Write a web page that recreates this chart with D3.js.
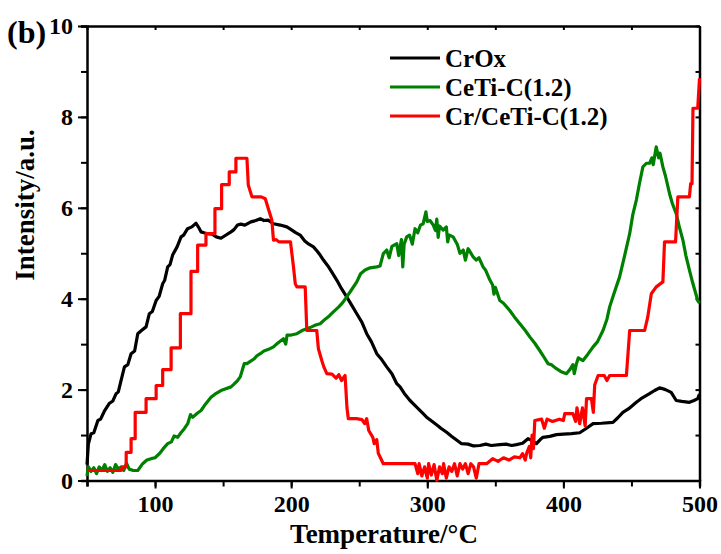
<!DOCTYPE html>
<html>
<head>
<meta charset="utf-8">
<script src="https://cdn.jsdelivr.net/npm/d3@7"></script>
<style>
  body { margin: 0; background: #fff; }
  svg text { font-family: "Liberation Serif", "Times New Roman", serif; font-weight: bold; fill: #000; }
</style>
</head>
<body>
<div id="grafica"></div>
<script>
// ==============================
// DATOS
// ==============================

const serieNombres = ["CrOx", "CeTi-C(1.2)", "Cr/CeTi-C(1.2)"];
const serieColores = ["#000000", "#008000", "#ff0000"];

// [temperatura °C, intensidad u.a.]
const crOx = [[50,0.35],[51,0.8],[53,1.03],[55,1.05],[58,1.32],[60,1.35],[63,1.54],[66.5,1.70],[69,1.75],[71.4,1.91],[73,1.95],[75,2.2],[77.5,2.5],[80,2.55],[82.4,2.79],[85,2.85],[87.3,3.23],[90,3.3],[93.4,3.38],[95.8,3.67],[98,3.72],[100.8,3.96],[103,4.05],[105.6,4.33],[107,4.4],[109.3,4.70],[111,4.75],[112.9,4.96],[116.2,5.14],[119.1,5.36],[121,5.4],[123.9,5.54],[127,5.58],[130.1,5.66],[132,5.57],[133.8,5.47],[136,5.45],[138.6,5.43],[142,5.42],[145,5.36],[148.4,5.33],[151,5.38],[155.8,5.47],[158,5.52],[160.6,5.62],[163,5.64],[166,5.62],[170.4,5.69],[174,5.72],[177.3,5.76],[180,5.72],[183,5.73],[187,5.65],[192,5.62],[196.8,5.58],[200,5.52],[203,5.46],[206.6,5.40],[210,5.27],[213,5.20],[216.4,5.14],[219,5.05],[221.3,4.96],[223.7,4.85],[227,4.72],[230,4.58],[233.5,4.41],[237,4.22],[240.8,4.04],[244,3.88],[248.2,3.67],[252,3.48],[255.5,3.23],[259,3.05],[262.9,2.79],[266,2.68],[270.2,2.50],[274,2.35],[277.6,2.13],[280,2.06],[283,1.92],[287.3,1.76],[292,1.62],[297,1.47],[300,1.38],[304.4,1.28],[308,1.20],[310,1.15],[314.2,1.06],[318,0.97],[322,0.88],[325.2,0.81],[330,0.80],[334,0.76],[338.6,0.77],[343,0.80],[347,0.77],[353.3,0.79],[358,0.80],[362,0.77],[365.5,0.79],[370,0.82],[374,0.92],[377,0.88],[380.2,0.81],[383,0.90],[385,0.95],[390,0.97],[394.9,1.01],[400,1.02],[406,1.03],[412,1.05],[417,1.15],[421.8,1.25],[428,1.26],[436.4,1.28],[440,1.38],[443.7,1.50],[448,1.58],[453.6,1.72],[458,1.82],[463.3,1.91],[467,1.98],[470.7,2.04],[475,2.00],[479.2,1.94],[482.9,1.76],[487,1.74],[492.6,1.72],[496,1.76],[498.7,1.80],[500,1.90]];

const ceTi = [[50,0.1],[51,0.3],[53,0.2],[55,0.28],[57,0.15],[59,0.30],[61,0.22],[63,0.35],[65,0.2],[67,0.28],[69,0.18],[71,0.35],[73,0.25],[75,0.3],[77,0.22],[79,0.38],[81,0.25],[84,0.22],[87.3,0.22],[90.9,0.37],[94,0.45],[97.1,0.48],[100,0.50],[103.2,0.59],[106,0.70],[109.3,0.81],[112,0.85],[114,0.98],[116.6,0.95],[119,1.05],[121.5,1.14],[124,1.25],[126,1.45],[127.6,1.39],[131,1.48],[133.8,1.54],[137,1.68],[141.1,1.83],[144,1.90],[148.4,1.98],[152,2.02],[155.8,2.06],[158,2.12],[160.6,2.20],[162.6,2.28],[165.5,2.57],[167.5,2.57],[170,2.62],[172.9,2.68],[175,2.75],[177.3,2.79],[180,2.85],[183,2.88],[187,2.94],[190,3.02],[194.3,3.12],[196,3.0],[197,3.2],[200,3.2],[204.2,3.23],[208,3.30],[211.5,3.34],[215,3.38],[218,3.42],[221.3,3.45],[225,3.55],[228,3.62],[231,3.71],[235,3.82],[238,3.92],[240.8,4.04],[244,4.18],[248.2,4.37],[251,4.55],[254.3,4.63],[258,4.68],[262.9,4.70],[265.3,4.72],[267.7,4.99],[270.2,5.07],[272,4.9],[274,5.15],[277.6,5.21],[279,4.95],[281,5.3],[282,4.7],[283,5.2],[284.9,5.36],[287,5.40],[289,5.2],[291,5.54],[293,5.45],[295,5.62],[297,5.65],[299,5.91],[300,5.7],[302,5.72],[304.4,5.62],[306,5.5],[307,5.75],[308,5.35],[309,5.6],[311.7,5.51],[314,5.58],[315,5.25],[316,5.4],[319,5.36],[322,5.2],[324,5.0],[326.4,5.07],[328,4.85],[330,5.1],[333.7,4.92],[336,4.85],[338,4.9],[341,4.70],[343,4.62],[346,4.41],[348,4.3],[349,4.1],[350,4.25],[353.3,3.96],[356,3.9],[360.6,3.74],[364,3.6],[368,3.45],[372,3.3],[375.3,3.16],[379,3.02],[382.6,2.86],[385,2.75],[388.7,2.57],[391,2.55],[394.9,2.46],[398,2.40],[402.2,2.35],[405,2.45],[407,2.55],[408,2.35],[409.6,2.57],[411,2.7],[414.4,2.64],[418,2.78],[421.8,2.94],[425,3.05],[429.1,3.30],[432,3.55],[434,3.82],[437,4.1],[441.3,4.48],[445,4.95],[448.7,5.43],[451,5.85],[453.6,6.17],[456,6.55],[458.4,6.90],[461,6.98],[463.3,6.98],[465,7.1],[466,6.95],[468.2,7.34],[470,7.1],[471,7.2],[473.1,6.90],[475,6.7],[478,6.31],[480,6.1],[482.9,5.87],[485,5.6],[487.8,5.29],[490,4.95],[492.6,4.63],[495,4.35],[498.7,3.96],[500,3.9]];

const crCeTi = [[50,0.22],[75,0.22],[76,0.3],[78.8,0.30],[78.8,0.62],[82.4,0.62],[82.4,0.92],[85.4,0.92],[85.4,1.50],[93.4,1.50],[93.4,1.80],[100.8,1.80],[100.8,2.09],[105.6,2.09],[105.6,2.44],[111.8,2.44],[111.8,2.92],[118.6,2.92],[118.6,3.67],[126.4,3.67],[126.4,4.60],[131.3,4.60],[131.3,5.18],[137.4,5.18],[137.4,5.43],[144,5.43],[144,5.98],[148.9,5.98],[148.9,6.51],[154.5,6.51],[154.5,6.79],[159.4,6.79],[159.4,7.09],[167.5,7.09],[168.5,6.5],[171.2,6.24],[178,6.24],[181,6.20],[183,6.0],[185.8,5.73],[187,5.29],[189,5.30],[191,5.25],[199.5,5.25],[201.7,4.7],[203,4.33],[204.2,4.26],[210.3,4.26],[211.5,3.30],[218.8,3.30],[220,2.9],[222.5,2.64],[224,2.5],[226.2,2.35],[230,2.34],[233,2.25],[235,2.33],[237,2.20],[239.6,2.31],[241,1.6],[242,1.36],[248,1.36],[252,1.34],[254,1.25],[255.5,1.36],[257,1.1],[260,0.95],[261,0.81],[262.9,0.9],[264,0.6],[267.7,0.37],[291,0.37],[293,0.15],[294,0.37],[296,0.1],[298,0.3],[300,0.05],[301,0.37],[303,0.12],[305,0.35],[307,0.0],[309,0.3],[311,0.15],[312,0.37],[314,0.05],[316,0.3],[318,0.2],[320,0.37],[322,0.1],[324,0.37],[326,0.25],[328,0.37],[330,0.15],[332,0.37],[334,0.3],[336,0.05],[338,0.37],[343.6,0.37],[348,0.48],[352,0.42],[356,0.50],[360,0.45],[364,0.52],[368,0.50],[370,0.59],[372,0.45],[373,0.6],[375,0.75],[376,0.5],[377,1.0],[378,0.7],[379,1.32],[384,1.35],[386,1.15],[388,1.35],[392,1.30],[397,1.35],[400,1.32],[401,1.47],[407,1.47],[409,1.30],[410,1.6],[412,1.25],[414,1.6],[416,1.2],[417,1.8],[420.6,1.80],[422,1.5],[423,2.1],[425.5,2.31],[430,2.31],[432,2.2],[434,2.31],[446.3,2.31],[448.7,3.30],[459.7,3.30],[462,3.6],[464.6,4.11],[468.2,4.26],[473.1,4.37],[474.3,5.25],[482.4,5.25],[484.1,6.24],[492.6,6.24],[493.5,6.53],[494.5,6.53],[495.2,8.19],[498.7,8.19],[500,8.85]];

const series = [crOx, ceTi, crCeTi];

const xTicks = [100, 200, 300, 400, 500];
const xTicksMenores = [50, 100, 150, 200, 250, 300, 350, 400, 450, 500];
const yTicks = [0, 2, 4, 6, 8, 10];
const yTicksMenores = [0, 1, 2, 3, 4, 5, 6, 7, 8, 9, 10];

// ==============================
// SVG Y ESCALAS
// ==============================

const ANCHO = 721, ALTO = 554;
const margen = { top: 26, right: 21.5, bottom: 73.5, left: 87 };

const svg = d3.select("#grafica").append("svg")
  .attr("width", ANCHO)
  .attr("height", ALTO);

const x = d3.scaleLinear().domain([50, 500]).range([margen.left, ANCHO - margen.right]);
const y = d3.scaleLinear().domain([0, 10]).range([ALTO - margen.bottom, margen.top]);

// ==============================
// EJES
// ==============================

function estiloEje(g) {
  g.select(".domain").attr("stroke", "#000").attr("stroke-width", 2.5);
  g.selectAll(".tick line").attr("stroke", "#000").attr("stroke-width", 2);
  g.selectAll(".tick text").style("font-size", "24px");
}

// menores primero (solo marcas)
svg.append("g")
  .attr("transform", `translate(0,${y(0)})`)
  .call(d3.axisBottom(x).tickValues(xTicksMenores).tickSize(6).tickFormat(""))
  .call(estiloEje);

svg.append("g")
  .attr("transform", `translate(0,${y(0)})`)
  .call(d3.axisBottom(x).tickValues(xTicks).tickSize(8).tickPadding(6).tickFormat(d3.format("d")))
  .call(estiloEje)
  .call(g => g.select(".domain").remove());

svg.append("g")
  .attr("transform", `translate(${x(50)},0)`)
  .call(d3.axisLeft(y).tickValues(yTicksMenores).tickSize(6).tickFormat(""))
  .call(estiloEje);

svg.append("g")
  .attr("transform", `translate(${x(50)},0)`)
  .call(d3.axisLeft(y).tickValues(yTicks).tickSize(9).tickPadding(5).tickFormat(d3.format("d")))
  .call(estiloEje)
  .call(g => g.select(".domain").remove());

// eje superior y derecho (marcas hacia dentro, sin etiquetas)
svg.append("g")
  .attr("transform", `translate(0,${y(10)})`)
  .call(d3.axisBottom(x).tickValues(xTicksMenores).tickSize(4).tickSizeOuter(0).tickFormat(""))
  .call(estiloEje);

svg.append("g")
  .attr("transform", `translate(${x(500)},0)`)
  .call(d3.axisLeft(y).tickValues(yTicksMenores).tickSize(4).tickSizeOuter(0).tickFormat(""))
  .call(estiloEje);

// ==============================
// CURVAS
// ==============================

const linea = d3.line()
  .x(d => x(d[0]))
  .y(d => y(d[1]));

svg.append("g")
  .selectAll("path")
  .data(series)
  .join("path")
  .attr("d", linea)
  .attr("fill", "none")
  .attr("stroke", (d, i) => serieColores[i])
  .attr("stroke-width", 3.2)
  .attr("stroke-linejoin", "round");

// ==============================
// LEYENDA
// ==============================

const leyenda = svg.append("g");
const leyY = [58, 87, 116];

serieNombres.forEach((nombre, i) => {
  leyenda.append("line")
    .attr("x1", 390).attr("x2", 440)
    .attr("y1", leyY[i]).attr("y2", leyY[i])
    .attr("stroke", serieColores[i])
    .attr("stroke-width", 3);
  leyenda.append("text")
    .attr("x", 445)
    .attr("y", leyY[i] + 9)
    .style("font-size", "25px")
    .text(nombre);
});

// ==============================
// TÍTULOS
// ==============================

svg.append("text")
  .attr("x", 384)
  .attr("y", 543)
  .attr("text-anchor", "middle")
  .style("font-size", "27px")
  .text("Temperature/°C");

svg.append("text")
  .attr("transform", "translate(34,205) rotate(-90)")
  .attr("text-anchor", "middle")
  .style("font-size", "27px")
  .text("Intensity/a.u.");

svg.append("text")
  .attr("x", 7)
  .attr("y", 43)
  .style("font-size", "32px")
  .text("(b)");
</script>
</body>
</html>
